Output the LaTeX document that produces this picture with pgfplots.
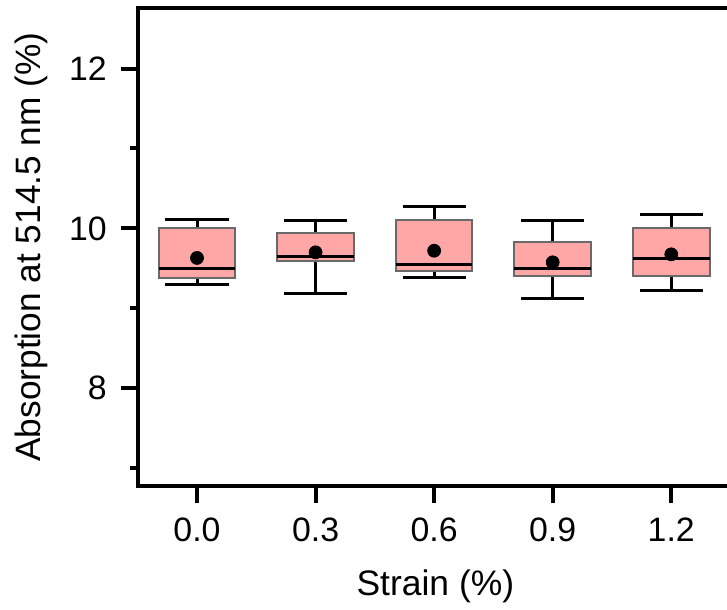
\documentclass[border=0pt]{standalone}
\usepackage{fontspec}
\setmainfont{Liberation Sans}
\usepackage{pgfplots}
\pgfplotsset{compat=1.18}
\usepgfplotslibrary{statistics}
\definecolor{boxfill}{RGB}{255,166,166}
\definecolor{boxedge}{RGB}{105,105,105}
\begin{document}
\begin{tikzpicture}
\begin{axis}[
 scale only axis, width=295pt, height=240pt,
 xmin=-0.1505, xmax=1.336, ymin=6.775, ymax=12.756,
 axis x line*=box, axis y line*=left,
 axis line style={line width=2pt, line cap=rect},
 xtick={0,0.3,0.6,0.9,1.2}, xticklabels={0.0,0.3,0.6,0.9,1.2},
 ytick={8,10,12}, minor ytick={7,9,11},
 tick align=outside, xtick pos=bottom, ytick pos=left,
 major tick length=8.5pt, minor tick length=4pt,
 every tick/.style={black, line width=2pt},
 /pgf/number format/assume math mode=true,
 tick label style={font=\fontsize{17}{20}\selectfont},
 xticklabel style={yshift=-4pt},
 yticklabel style={xshift=-3.4pt},
 ylabel={Absorption at 514.5 nm (\%)},
 xlabel={Strain (\%)},
 every axis y label/.style={at={(axis description cs:-0.1814,0.5)}, rotate=90, anchor=center, inner xsep=16.35pt, inner ysep=7.3pt, font=\fontsize{17.7}{21}\selectfont},
 every axis x label/.style={at={(axis description cs:0.507,-0.2104)}, anchor=center, font=\fontsize{17.8}{21}\selectfont},
 boxplot/draw direction=y,
 boxplot/box extend=0.194,
 boxplot/whisker extend=0.16,
 boxplot/every box/.style={draw=boxedge, fill=boxfill, line width=1pt},
 boxplot/every whisker/.style={black, line width=1.5pt},
 boxplot/every median/.style={black, line width=1.5pt},
]
\addplot[black, boxplot prepared={draw position=0, lower whisker=9.30, lower quartile=9.38, median=9.50, upper quartile=10.00, upper whisker=10.11}] coordinates {};
\addplot[black, boxplot prepared={draw position=0.3, lower whisker=9.19, lower quartile=9.59, median=9.65, upper quartile=9.94, upper whisker=10.10}] coordinates {};
\addplot[black, boxplot prepared={draw position=0.6, lower whisker=9.39, lower quartile=9.47, median=9.55, upper quartile=10.11, upper whisker=10.275}] coordinates {};
\addplot[black, boxplot prepared={draw position=0.9, lower whisker=9.12, lower quartile=9.40, median=9.50, upper quartile=9.825, upper whisker=10.10}] coordinates {};
\addplot[black, boxplot prepared={draw position=1.2, lower whisker=9.22, lower quartile=9.40, median=9.62, upper quartile=10.01, upper whisker=10.17}] coordinates {};
\addplot[only marks, mark=*, mark size=3.25pt, black] coordinates {(0,9.63) (0.3,9.70) (0.6,9.72) (0.9,9.575) (1.2,9.675)};
\end{axis}
\end{tikzpicture}
\end{document}
